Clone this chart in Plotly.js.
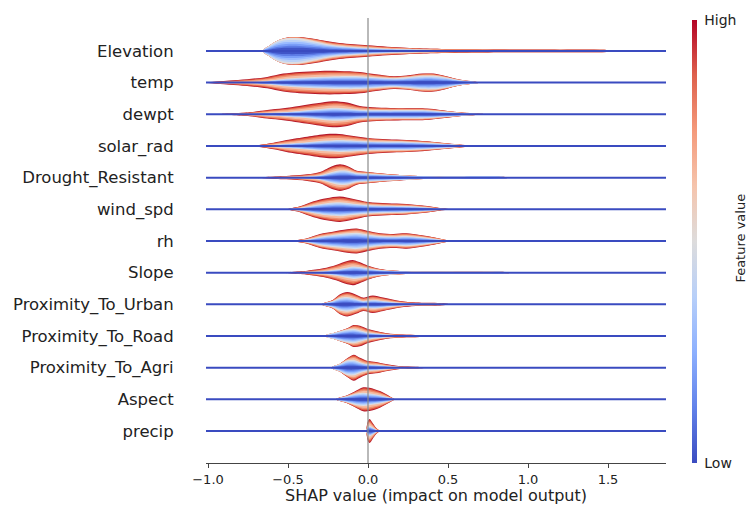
<!DOCTYPE html>
<html>
<head>
<meta charset="utf-8">
<script src="https://cdn.plot.ly/plotly-3.0.1.min.js"></script>
<style>
html,body{margin:0;padding:0;background:#fff;}
#chart{width:750px;height:505px;}
</style>
</head>
<body>
<div id="chart"></div>
<script>
// Feature names, top to bottom
const features = ['Elevation','temp','dewpt','solar_rad','Drought_Resistant','wind_spd','rh','Slope',
  'Proximity_To_Urban','Proximity_To_Road','Proximity_To_Agri','Aspect','precip'];

// SHAP value grid (x), half-width of density (px-scale), share of width with high feature values (warm)
const elevationX = [-0.66,-0.62,-0.57,-0.51,-0.43,-0.34,-0.26,-0.18,-0.09,0,0.12,0.24,0.41,0.62,0.9,1.2,1.45,1.65];
const elevationW = [0,5,10,13.3,14,12.3,10,8,6.7,5.7,4.3,3.3,2.3,1.8,1.4,1.3,1.3,0];
const elevationH = [0,0,0,0.05,0.1,0.2,0.3,0.35,0.4,0.45,0.5,0.5,0.55,0.55,0.5,0.45,0.45,0.4];

const tempX = [-1.0,-0.84,-0.73,-0.63,-0.53,-0.43,-0.3,-0.18,-0.05,0.05,0.16,0.24,0.34,0.41,0.49,0.57,0.68,0.75];
const tempW = [0.3,2.3,3.8,5.7,9,10.7,11.7,11.7,10.7,8.3,6.3,7,9,9,6.3,3,0.7,0];
const tempH = [1,0.95,0.85,0.7,0.6,0.55,0.5,0.45,0.4,0.35,0.3,0.25,0.25,0.25,0.2,0.15,0.1,0];

const dewptX = [-0.93,-0.74,-0.63,-0.53,-0.43,-0.32,-0.22,-0.13,-0.05,0.03,0.14,0.24,0.37,0.45,0.57,0.7,0.78];
const dewptW = [0,2,4.3,6,8.3,11,13,11.7,8.3,7,6.3,6,5.7,4.3,2,0.5,0];
const dewptH = [0.9,0.8,0.7,0.65,0.6,0.55,0.5,0.5,0.45,0.4,0.35,0.3,0.3,0.3,0.2,0.1,0];

const solarX = [-0.8,-0.68,-0.59,-0.51,-0.38,-0.26,-0.18,-0.09,0,0.12,0.24,0.37,0.49,0.62,0.7];
const solarW = [0,1,3.3,6,9.3,12,12,10,8,6.7,6,4.7,2.7,0.7,0];
const solarH = [0.8,0.75,0.7,0.65,0.6,0.55,0.5,0.45,0.4,0.35,0.3,0.3,0.25,0.1,0];

const droughtX = [-0.7,-0.51,-0.38,-0.3,-0.22,-0.175,-0.13,-0.07,0,0.12,0.28,0.41,0.6,0.83,0.88];
const droughtW = [0,1.7,3.3,5.7,11.7,13.3,11.7,7,5.7,3.7,2,1.2,1.3,1.2,0];
const droughtH = [0.9,0.8,0.7,0.6,0.5,0.45,0.4,0.35,0.3,0.2,0.1,0,0,0,0];

const windX = [-0.5,-0.43,-0.34,-0.26,-0.175,-0.09,0,0.12,0.24,0.37,0.45,0.52];
const windW = [0,2.7,8,11,12.7,10.3,7.3,6,5.3,3.3,1.3,0];
const windH = [0.6,0.55,0.5,0.45,0.45,0.45,0.4,0.4,0.4,0.45,0.6,0.6];

const rhX = [-0.46,-0.38,-0.3,-0.22,-0.13,-0.07,0,0.075,0.16,0.24,0.325,0.41,0.49,0.54];
const rhW = [0,2.7,7,9.3,11.7,12.5,10,7.7,7,7.7,6,3.7,1,0];
const rhH = [0.5,0.45,0.4,0.35,0.35,0.35,0.35,0.35,0.35,0.35,0.35,0.4,0.5,0.5];

const slopeX = [-0.52,-0.38,-0.28,-0.2,-0.13,-0.09,-0.05,0,0.075,0.2,0.35,0.55,0.7,0.78,0.84,0.9];
const slopeW = [0,2,4.3,7.7,11.7,12.5,10.3,7,3.7,1.7,1.1,1.0,1.0,1.1,1.0,0];
const slopeH = [0.8,0.75,0.7,0.6,0.55,0.5,0.45,0.4,0.3,0.15,0,0,0,0,0,0];

const urbanX = [-0.29,-0.22,-0.175,-0.13,-0.07,-0.03,0.03,0.095,0.2,0.3,0.45,0.52];
const urbanW = [0,4.3,10,12.2,9.3,6.7,8.7,6.7,3.3,1.7,1.2,0];
const urbanH = [0.2,0.25,0.35,0.4,0.45,0.5,0.5,0.5,0.55,0.6,0.7,0.7];

const roadX = [-0.27,-0.2,-0.13,-0.09,-0.05,0,0.05,0.14,0.24,0.35,0.45];
const roadW = [0,3.7,7.7,11,10.3,7,5,2.3,1.3,1,0];
const roadH = [0,0,0.15,0.35,0.45,0.5,0.5,0.5,0.5,0.5,0.5];

const agriX = [-0.23,-0.175,-0.13,-0.09,-0.05,0,0.05,0.12,0.2,0.3,0.38];
const agriW = [0,4,9.3,13,10,6.7,5.7,3.3,1.3,0.8,0];
const agriH = [0,0.05,0.2,0.4,0.45,0.5,0.5,0.5,0.5,0.5,0.5];

const aspectX = [-0.2,-0.13,-0.07,-0.03,0.01,0.075,0.14,0.17];
const aspectW = [0,4,9,12,11.7,8.3,2.7,0];
const aspectH = [0.1,0.2,0.35,0.45,0.5,0.5,0.5,0.5];

const precipX = [-0.01,0.0,0.01,0.03,0.05,0.075];
const precipW = [0,10,12,7.7,3.3,0];
const precipH = [0.55,0.55,0.55,0.55,0.6,0.6];

const xTicks = [-1.0,-0.5,0.0,0.5,1.0,1.5];

const profiles = [
  [elevationX,elevationW,elevationH],[tempX,tempW,tempH],[dewptX,dewptW,dewptH],
  [solarX,solarW,solarH],[droughtX,droughtW,droughtH],[windX,windW,windH],
  [rhX,rhW,rhH],[slopeX,slopeW,slopeH],[urbanX,urbanW,urbanH],
  [roadX,roadW,roadH],[agriX,agriW,agriH],[aspectX,aspectW,aspectH],
  [precipX,precipW,precipH]
];

// styling
const X_MIN = -1.0125, X_MAX = 1.8625;
const S = 1/31.67; // px-scale -> row units
const coolwarm = [[0,'#3b4cc0'],[0.125,'#6282ea'],[0.25,'#8db0fe'],[0.375,'#b7cff9'],
  [0.5,'#dddcdc'],[0.625,'#f5c4ac'],[0.75,'#f49a7b'],[0.875,'#de614d'],[1,'#b40426']];
const layers = [
  {band:'warm', f:0.0,  color:'#b5192b'},
  {band:'warm', f:0.18, color:'#e0593f'},
  {band:'warm', f:0.4,  color:'#f08e6e'},
  {band:'warm', f:0.66, color:'#f6bba0'},
  {band:'cool', f:0.0,  color:'#dcdde2'},
  {band:'cool', f:0.15, color:'#bcd2f7'},
  {band:'cool', f:0.3,  color:'#9bbcff'},
  {band:'cool', f:0.45, color:'#7b9ff9'},
  {band:'cool', f:0.6,  color:'#5d7ce6'},
  {band:'cool', f:0.75, color:'#4055c8'}
];

const traces = [];
const n = features.length;

profiles.forEach((p,i)=>{
  const [X,W,H] = p; const r = n-1-i;
  layers.forEach(L=>{
    const b = X.map((_,k)=> L.band==='warm' ? W[k]*(1 - H[k]*L.f) : W[k]*(1-H[k])*(1-L.f));
    const xs = X.concat(X.slice().reverse());
    const top = b.map(v=> r + v*S);
    const bot = b.map(v=> r - v*S).reverse();
    traces.push({type:'scatter', mode:'lines', x:xs, y:top.concat(bot), fill:'toself',
      fillcolor:L.color, line:{width:0, shape:'spline', smoothing:0.9, color:L.color},
      hoverinfo:'skip', showlegend:false});
  });
});

// baseline lines (on top)
const lx = [], ly = [];
features.forEach((f,i)=>{ const r=n-1-i; lx.push(X_MIN, X_MAX, null); ly.push(r, r, null); });
traces.push({type:'scatter', mode:'lines', x:lx, y:ly, line:{color:'#3a4bc0', width:2},
  hoverinfo:'skip', showlegend:false});

// colorbar carrier
traces.push({type:'scatter', mode:'markers', x:[-5], y:[-5], hoverinfo:'skip', showlegend:false,
  marker:{color:[0], cmin:0, cmax:1, colorscale:coolwarm, size:1, showscale:true,
    colorbar:{thickness:5, lenmode:'pixels', len:443, x:1.0565, xanchor:'left', xpad:0,
      y:0.9955, yanchor:'top', ypad:0, outlinewidth:0, tickvals:[0,1], ticktext:['Low','High'],
      ticks:'outside', ticklen:5, tickcolor:'rgba(0,0,0,0)',
      tickfont:{family:'DejaVu Sans', size:14, color:'#222'}}}});

const layout = {
  width:750, height:505,
  margin:{l:206, r:84, t:18, b:42},
  paper_bgcolor:'#fff', plot_bgcolor:'#fff',
  font:{family:'DejaVu Sans', color:'#222'},
  showlegend:false,
  xaxis:{range:[X_MIN, X_MAX], tickvals:xTicks, ticktext:xTicks.map(v=>v.toFixed(1).replace('-','\u2212')),
    ticks:'outside', ticklen:4, tickcolor:'#444', showline:true, linecolor:'#444', linewidth:1,
    showgrid:false, zeroline:false, tickfont:{size:13, color:'#222'},
    title:{text:'SHAP value (impact on model output)', font:{size:16, color:'#222'}, standoff:4},
    automargin:false, fixedrange:true},
  yaxis:{range:[-1.01, 13.04], tickvals:features.map((f,i)=>n-1-i), ticktext:features,
    ticks:'outside', ticklen:28, tickcolor:'rgba(0,0,0,0)', showline:false, showgrid:false,
    zeroline:false, tickfont:{size:16.5, color:'#222'}, automargin:false, fixedrange:true},
  shapes:[{type:'line', xref:'x', yref:'paper', x0:0, x1:0, y0:0, y1:1,
    line:{color:'#8a8a8a', width:1.2}, layer:'above'}],
  annotations:[{text:'Feature value', xref:'paper', yref:'paper', x:1.16, y:0.5056,
    xanchor:'center', yanchor:'middle', textangle:-90, showarrow:false,
    font:{family:'DejaVu Sans', size:13, color:'#222'}}]
};

Plotly.newPlot('chart', traces, layout, {staticPlot:true, displayModeBar:false});
</script>
</body>
</html>
